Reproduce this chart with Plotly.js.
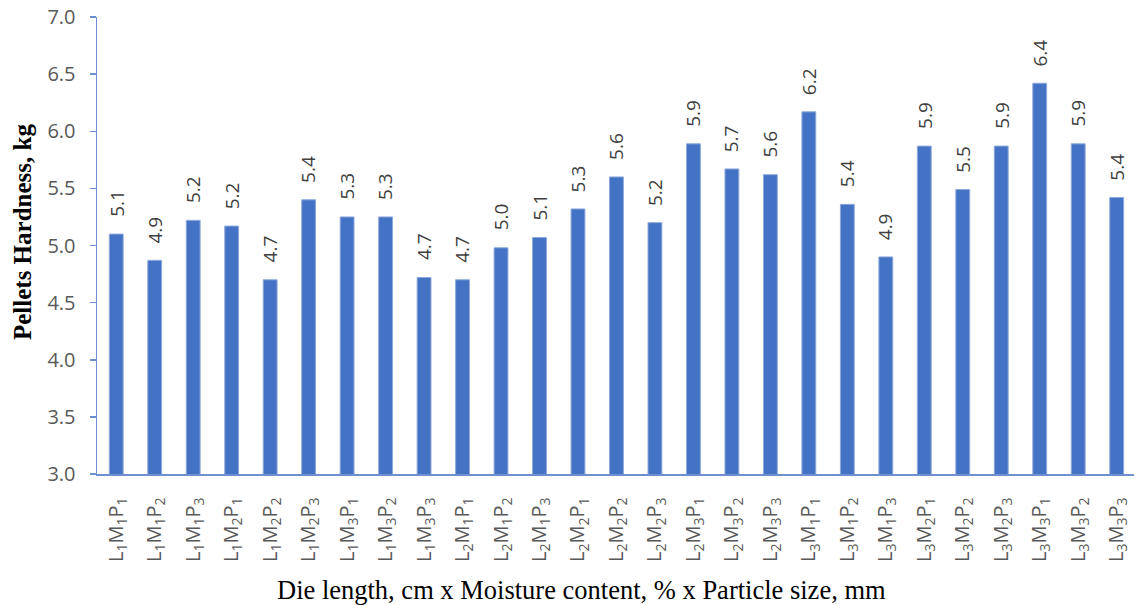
<!DOCTYPE html>
<html><head><meta charset="utf-8">
<script src="https://cdn.plot.ly/plotly-3.0.1.min.js"></script>
<style>body{margin:0;background:#fff}#c{width:1134px;height:605px}</style>
</head><body><div id="c"></div>
<script>
const categories = ["L<sub>1</sub>M<sub>1</sub>P<sub>1</sub>","L<sub>1</sub>M<sub>1</sub>P<sub>2</sub>","L<sub>1</sub>M<sub>1</sub>P<sub>3</sub>",
"L<sub>1</sub>M<sub>2</sub>P<sub>1</sub>","L<sub>1</sub>M<sub>2</sub>P<sub>2</sub>","L<sub>1</sub>M<sub>2</sub>P<sub>3</sub>",
"L<sub>1</sub>M<sub>3</sub>P<sub>1</sub>","L<sub>1</sub>M<sub>3</sub>P<sub>2</sub>","L<sub>1</sub>M<sub>3</sub>P<sub>3</sub>",
"L<sub>2</sub>M<sub>1</sub>P<sub>1</sub>","L<sub>2</sub>M<sub>1</sub>P<sub>2</sub>","L<sub>2</sub>M<sub>1</sub>P<sub>3</sub>",
"L<sub>2</sub>M<sub>2</sub>P<sub>1</sub>","L<sub>2</sub>M<sub>2</sub>P<sub>2</sub>","L<sub>2</sub>M<sub>2</sub>P<sub>3</sub>",
"L<sub>2</sub>M<sub>3</sub>P<sub>1</sub>","L<sub>2</sub>M<sub>3</sub>P<sub>2</sub>","L<sub>2</sub>M<sub>3</sub>P<sub>3</sub>",
"L<sub>3</sub>M<sub>1</sub>P<sub>1</sub>","L<sub>3</sub>M<sub>1</sub>P<sub>2</sub>","L<sub>3</sub>M<sub>1</sub>P<sub>3</sub>",
"L<sub>3</sub>M<sub>2</sub>P<sub>1</sub>","L<sub>3</sub>M<sub>2</sub>P<sub>2</sub>","L<sub>3</sub>M<sub>2</sub>P<sub>3</sub>",
"L<sub>3</sub>M<sub>3</sub>P<sub>1</sub>","L<sub>3</sub>M<sub>3</sub>P<sub>2</sub>","L<sub>3</sub>M<sub>3</sub>P<sub>3</sub>"];
const hardness = [5.10,4.87,5.22,5.17,4.70,5.40,5.25,5.25,4.72,4.70,4.98,5.07,5.32,5.60,5.20,5.89,5.67,5.62,6.17,5.36,4.90,5.87,5.49,5.87,6.42,5.89,5.42];
const yTicks = [3.0,3.5,4.0,4.5,5.0,5.5,6.0,6.5,7.0];
const yTitle = "Pellets Hardness, kg";
const xTitle = "Die length, cm x Moisture content, % x Particle size, mm";

const idx = categories.map((_, i) => i);
const annotations = hardness.map((v, i) => ({
  x: i, y: v, xref: 'x', yref: 'y', text: v.toFixed(1), showarrow: false,
  textangle: -90, yanchor: 'bottom', xanchor: 'center', yshift: 15,
  font: {family: 'Open Sans, sans-serif', size: 19, color: '#404040'}
}));
annotations.push({
  xref: 'paper', yref: 'paper', x: 0.467, y: -0.254, xanchor: 'center', yanchor: 'middle',
  text: xTitle, showarrow: false,
  font: {family: 'Liberation Serif, serif', size: 26.5, color: '#000'}
});
annotations.push({
  xref: 'paper', yref: 'paper', x: -0.0723, y: 0.5295, xanchor: 'center', yanchor: 'middle',
  text: '<b>' + yTitle + '</b>', showarrow: false, textangle: -90,
  font: {family: 'Liberation Serif, serif', size: 25, color: '#000'}
});

Plotly.newPlot('c', [{
  type: 'bar', x: idx, y: hardness, width: 0.36,
  marker: {color: '#4472C4', line: {color: '#8EA9DB', width: 1}},
  hoverinfo: 'none'
}], {
  width: 1134, height: 605,
  margin: {l: 97, r: 0, t: 17, b: 131},
  paper_bgcolor: '#fff', plot_bgcolor: '#fff',
  showlegend: false,
  xaxis: {
    range: [-0.5, 26.45], tickmode: 'array', tickvals: idx, ticktext: categories,
    tickangle: -90, showgrid: false, zeroline: false,
    showline: true, linecolor: '#6F8FD0', linewidth: 1.5, ticks: '',
    ticklabelstandoff: 14, ticklabeloverflow: 'allow',
    tickfont: {family: 'Open Sans, sans-serif', size: 20, color: '#595959'}
  },
  yaxis: {
    range: [3, 7], tickmode: 'array', tickvals: yTicks, ticktext: yTicks.map(v => v.toFixed(1)),
    showgrid: false, zeroline: false, showline: true, linecolor: '#6F8FD0', linewidth: 1.5,
    ticks: 'outside', ticklen: 6, tickcolor: '#6F8FD0', tickwidth: 1.5,
    ticklabelstandoff: 10,
    tickfont: {family: 'Open Sans, sans-serif', size: 20, color: '#595959'}
  },
  annotations: annotations
}, {displayModeBar: false, staticPlot: true});
</script></body></html>
